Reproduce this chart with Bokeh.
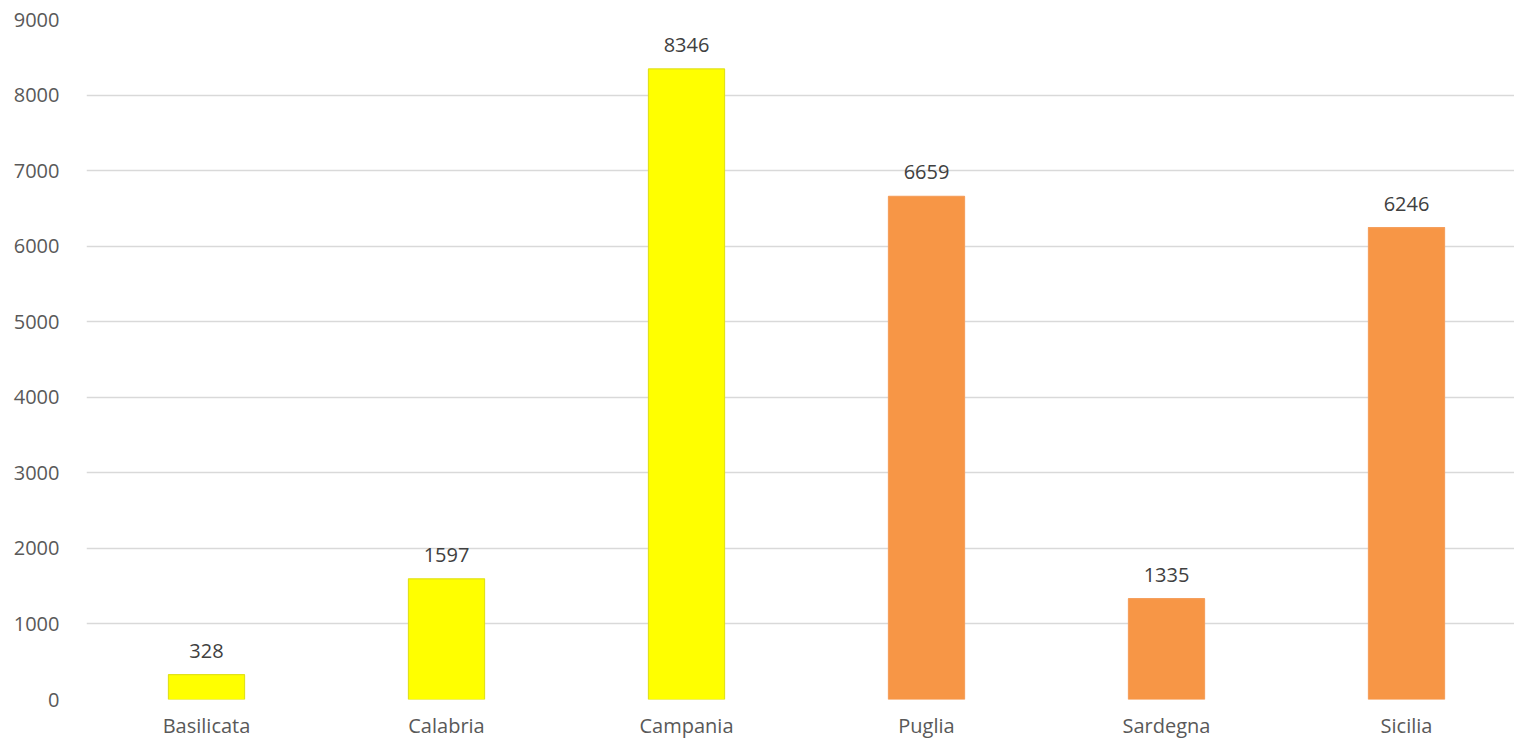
from bokeh.plotting import figure
from bokeh.models import Range1d, FixedTicker, ColumnDataSource, LabelSet
from bokeh.core.properties import value
from bokeh.embed import file_html
from bokeh.resources import INLINE

regions = ["Basilicata", "Calabria", "Campania", "Puglia", "Sardegna", "Sicilia"]
values = [328, 1597, 8346, 6659, 1335, 6246]
fill_colors = ["#FFFF00", "#FFFF00", "#FFFF00", "#F79646", "#F79646", "#F79646"]
line_colors = ["#E2E21A", "#E2E21A", "#E2E21A", "#F5A05E", "#F5A05E", "#F5A05E"]
y_ticks = [0, 1000, 2000, 3000, 4000, 5000, 6000, 7000, 8000, 9000]

xs = list(range(len(regions)))
src = ColumnDataSource(dict(x=xs, top=values, fill=fill_colors, line=line_colors,
                            lbl=[str(v) for v in values]))

p = figure(width=1514, height=741, output_backend="svg", toolbar_location=None,
           x_range=Range1d(-0.5, 5.45), y_range=Range1d(0, 9000),
           min_border_left=86, min_border_right=0, min_border_top=19, min_border_bottom=42)

p.vbar(x="x", top="top", width=0.317, fill_color="fill", line_color="line",
       line_width=1.2, source=src)

labels = LabelSet(x="x", y="top", text="lbl", source=src, text_align="center",
                  text_baseline="alphabetic", y_offset=17, text_font_size="20px",
                  text_color="#404040", text_font=value("Open Sans"))
p.add_layout(labels)

p.xaxis.ticker = FixedTicker(ticks=xs)
p.xaxis.major_label_overrides = {i: r for i, r in enumerate(regions)}
p.yaxis.ticker = FixedTicker(ticks=y_ticks)

for ax in (p.xaxis, p.yaxis):
    ax.axis_line_color = None
    ax.major_tick_line_color = None
    ax.minor_tick_line_color = None
    ax.major_label_text_font = "Open Sans"
    ax.major_label_text_font_size = "20px"
    ax.major_label_text_color = "#595959"
p.yaxis.major_label_standoff = 21
p.xaxis.major_label_standoff = 6

p.xgrid.grid_line_color = None
p.ygrid.grid_line_color = "#D9D9D9"
p.ygrid.grid_line_width = 1.3
p.outline_line_color = None
p.background_fill_color = "white"
p.border_fill_color = "white"

open("out.html", "w").write(file_html(p, INLINE))
